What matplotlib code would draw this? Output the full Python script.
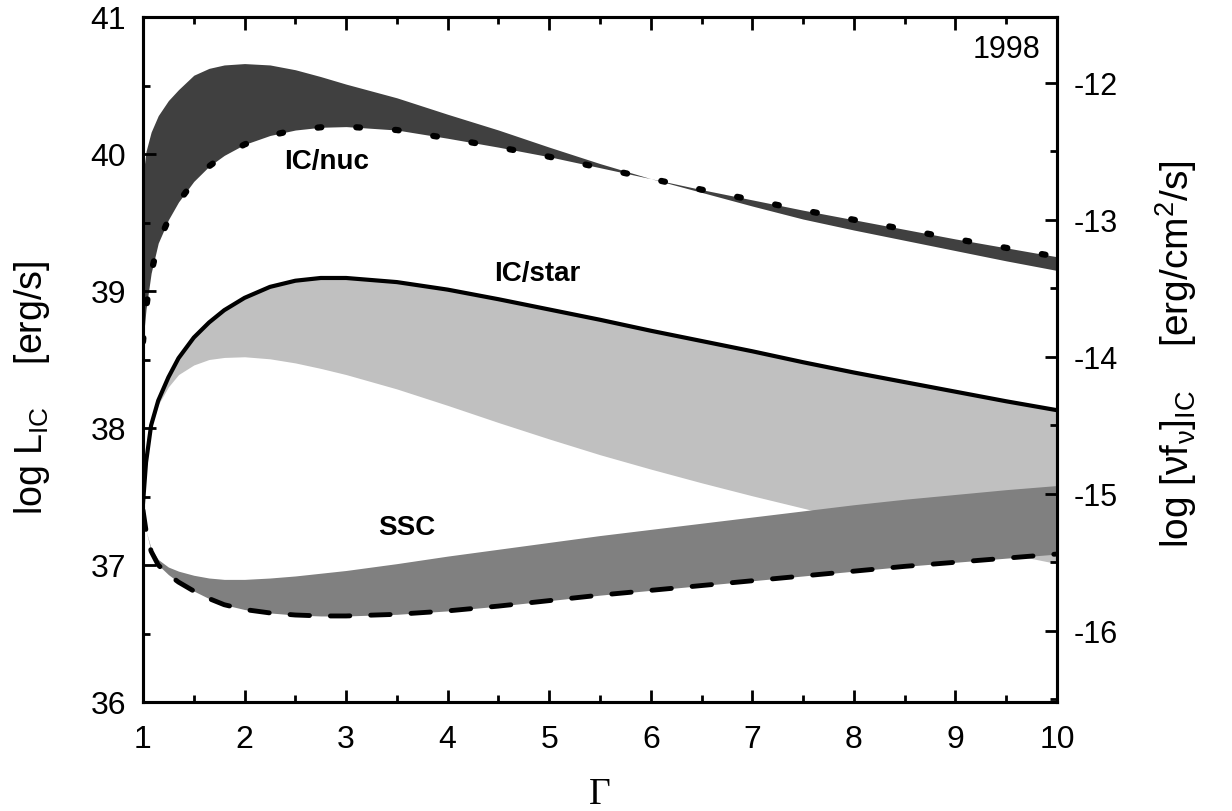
import matplotlib
matplotlib.use("Agg")
import matplotlib.pyplot as plt
from matplotlib.ticker import MultipleLocator, FuncFormatter

plt.rcParams['font.family'] = ['Liberation Sans', 'DejaVu Sans']
plt.rcParams['axes.unicode_minus'] = False
plt.rcParams['mathtext.fontset'] = 'custom'
plt.rcParams['mathtext.rm'] = 'Liberation Sans'
plt.rcParams['mathtext.it'] = 'Liberation Sans'

# ---- data ----
gamma = [1.0, 1.03, 1.08, 1.15, 1.25, 1.35, 1.5, 1.65, 1.8, 2.0, 2.25, 2.5, 2.75, 3.0,
         3.5, 4.0, 4.5, 5.0, 5.5, 6.0, 6.5, 7.0, 7.5, 8.0, 8.5, 9.0, 9.5, 10.0]

nuc_upper = [39.84, 40.02, 40.16, 40.28, 40.39, 40.47, 40.575, 40.625, 40.65, 40.66, 40.65,
             40.615, 40.565, 40.51, 40.41, 40.29, 40.175, 40.05, 39.93, 39.82, 39.72, 39.62,
             39.525, 39.445, 39.37, 39.295, 39.22, 39.15]
nuc_dotted = [38.63, 38.87, 39.13, 39.35, 39.52, 39.65, 39.80, 39.91, 39.99, 40.07, 40.135,
              40.175, 40.195, 40.20, 40.175, 40.115, 40.05, 39.98, 39.90, 39.82, 39.74, 39.665,
              39.59, 39.52, 39.45, 39.38, 39.315, 39.25]

star_solid = [37.45, 37.75, 38.02, 38.20, 38.37, 38.51, 38.66, 38.77, 38.86, 38.95, 39.03,
              39.075, 39.095, 39.095, 39.065, 39.01, 38.94, 38.865, 38.79, 38.71, 38.635, 38.56,
              38.48, 38.405, 38.335, 38.265, 38.195, 38.13]
star_lower = [37.45, 37.75, 38.00, 38.17, 38.30, 38.39, 38.46, 38.50, 38.515, 38.52, 38.505,
              38.475, 38.435, 38.39, 38.285, 38.165, 38.04, 37.92, 37.805, 37.70, 37.60, 37.505,
              37.415, 37.325, 37.24, 37.16, 37.085, 37.01]

ssc_upper = [37.40, 37.25, 37.12, 37.04, 36.985, 36.955, 36.925, 36.905, 36.895, 36.895, 36.905,
             36.92, 36.94, 36.96, 37.01, 37.065, 37.115, 37.165, 37.215, 37.26, 37.305, 37.35,
             37.395, 37.44, 37.48, 37.515, 37.55, 37.58]
ssc_dashed = [37.40, 37.25, 37.10, 37.00, 36.93, 36.875, 36.81, 36.755, 36.71, 36.675, 36.65,
              36.635, 36.628, 36.628, 36.64, 36.665, 36.70, 36.74, 36.78, 36.815, 36.85, 36.885,
              36.92, 36.955, 36.99, 37.02, 37.05, 37.08]

flux_offset = 52.52   # log L - log(nu f_nu)

# ---- figure ----
fig = plt.figure(figsize=(12.32, 8.12), dpi=100)
ax = fig.add_axes([143/1232, 1 - 703/812, 914/1232, 685/812])

ax.fill_between(gamma, nuc_upper, nuc_dotted, color='#404040', lw=0, zorder=1)
ax.fill_between(gamma, star_solid, star_lower, color='#c0c0c0', lw=0, zorder=2)
ax.fill_between(gamma, ssc_upper, ssc_dashed, color='#808080', lw=0, zorder=3)

ax.plot(gamma, nuc_dotted, color='black', lw=4.5, linestyle=(0, (0.6, 5.6)),
        dash_capstyle='round', zorder=5)
ax.plot(gamma, star_solid, color='black', lw=3.0, zorder=5)
ax.plot(gamma, ssc_dashed, color='black', lw=3.5, linestyle=(0, (4.0, 4.3)),
        dash_capstyle='round', zorder=5)

ax.set_xlim(1, 10)
ax.set_ylim(36, 41)

ax.xaxis.set_major_locator(MultipleLocator(1))
ax.xaxis.set_minor_locator(MultipleLocator(0.5))
ax.yaxis.set_major_locator(MultipleLocator(1))
ax.yaxis.set_minor_locator(MultipleLocator(0.5))
ax.tick_params(axis='both', which='major', direction='in', length=9, width=2,
               labelsize=23, top=True, right=False)
ax.tick_params(axis='both', which='minor', direction='in', length=5, width=2,
               top=True, right=False)
ax.tick_params(axis='x', pad=16)
ax.tick_params(axis='y', pad=12)
for s in ax.spines.values():
    s.set_linewidth(2.2)

ax.set_xlabel('Γ', fontsize=27, family='Liberation Serif', labelpad=16)
ax.set_ylabel(r'log L$_\mathregular{IC}$    [erg/s]', fontsize=27)
ax.yaxis.set_label_coords(-0.10, 0.46)

ax2 = ax.twinx()
ax2.set_ylim(36 - flux_offset, 41 - flux_offset)
ax2.yaxis.set_major_locator(MultipleLocator(1))
ax2.yaxis.set_minor_locator(MultipleLocator(0.5))
ax2.yaxis.set_major_formatter(FuncFormatter(lambda v, p: '%d' % round(v)))
ax2.tick_params(axis='y', which='major', direction='in', length=9, width=2,
                labelsize=22, pad=12)
ax2.tick_params(axis='y', which='minor', direction='in', length=5, width=2)
for s in ax2.spines.values():
    s.set_linewidth(2.2)
ax2.set_ylabel(r'log [$\nu$f$_\nu$]$_\mathregular{IC}$    [erg/cm$^\mathregular{2}$/s]',
               fontsize=28)
ax2.yaxis.set_label_coords(1.105, 0.51)

ax.text(2.81, 39.95, 'IC/nuc', fontsize=20, fontweight='bold', ha='center', va='center', zorder=6)
ax.text(4.88, 39.13, 'IC/star', fontsize=20, fontweight='bold', ha='center', va='center', zorder=6)
ax.text(3.60, 37.28, 'SSC', fontsize=20, fontweight='bold', ha='center', va='center', zorder=6)
ax.text(9.84, 40.77, '1998', fontsize=22, ha='right', va='center', zorder=6)

fig.savefig('out.png', dpi=100)
